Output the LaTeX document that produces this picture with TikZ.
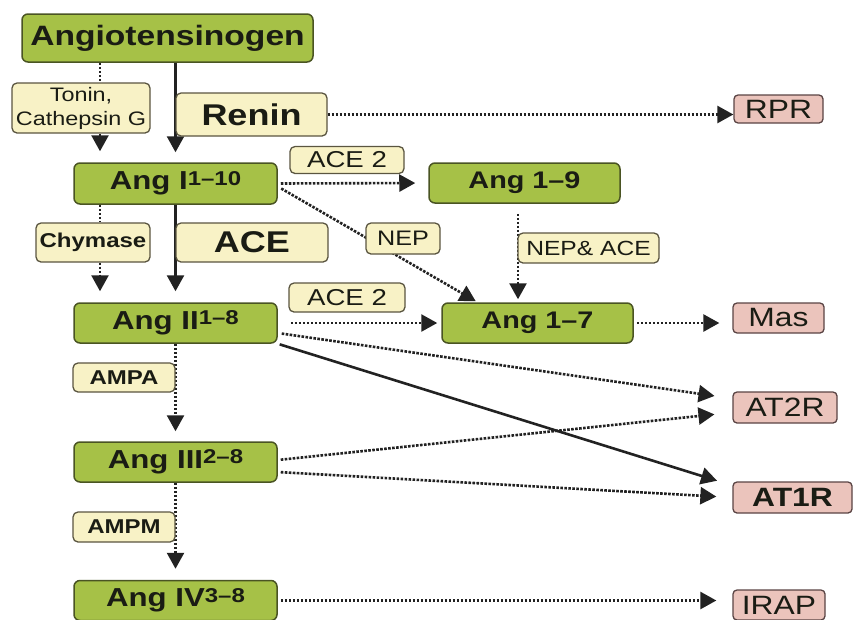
\documentclass[tikz,border=0pt]{standalone}
\usepackage{fontspec}
\setmainfont{Liberation Sans}[FakeStretch=1.2]
\usetikzlibrary{arrows.meta,backgrounds,calc}
\definecolor{gfill}{HTML}{A6C147}
\definecolor{gline}{HTML}{4A5423}
\definecolor{yfill}{HTML}{F8F2C6}
\definecolor{yline}{HTML}{5A5540}
\definecolor{pfill}{HTML}{EBC4BC}
\definecolor{pline}{HTML}{5A4444}
\definecolor{lcol}{HTML}{222222}
\definecolor{tcol}{HTML}{1A1C14}
\newcommand{\supsc}[1]{\raisebox{4.5pt}{\fontsize{20}{20}\selectfont #1}}
\begin{document}
\begin{tikzpicture}[x=1pt,y=-1pt,
  gbox/.style={draw=gline, fill=gfill, rounded corners=6pt, line width=1.5pt, inner sep=0pt, text=tcol},
  ybox/.style={draw=yline, fill=yfill, rounded corners=5pt, line width=1.3pt, inner sep=0pt, text=tcol},
  pbox/.style={draw=pline, fill=pfill, rounded corners=4pt, line width=1.3pt, inner sep=0pt, text=tcol},
  bigang/.style={font=\fontsize{26}{28}\selectfont\bfseries},
  midang/.style={font=\fontsize{24}{26}\selectfont\bfseries},
  labreg/.style={font=\fontsize{21}{24}\selectfont},
  labbold/.style={font=\fontsize{20}{22}\selectfont\bfseries},
  recfont/.style={font=\fontsize{26.5}{28}\selectfont},
  dotline/.style={draw=lcol, line width=2.6pt, dash pattern=on 2.6pt off 1.4pt},
  solidline/.style={draw=lcol, line width=2.6pt},
  arr/.style={-{Triangle[length=16pt,width=17pt]}},
]
\useasboundingbox (0,0) rectangle (854,619);
\coordinate (cx) at (100,0);
\coordinate (nx) at (518,0);
% main cascade
\node[gbox, font=\fontsize{28}{30}\selectfont\bfseries, minimum width=291pt, minimum height=48pt] (ago) at (167.5,38) {Angiotensinogen};
\node[ybox, font=\fontsize{19.5}{24}\selectfont, align=center, minimum width=138pt, minimum height=50pt] (tonin) at (81,108) {Tonin,\\Cathepsin G};
\node[ybox, font=\fontsize{30}{32}\selectfont\bfseries, minimum width=151pt, minimum height=43pt] (renin) at (251.5,114.5) {Renin};
\node[pbox, recfont, minimum width=89pt, minimum height=28pt] (rpr) at (778.5,109) {RPR};
\node[ybox, font=\fontsize{23}{25}\selectfont, minimum width=114pt, minimum height=27pt] (ace2a) at (347,160) {ACE 2};
\node[gbox, bigang, minimum width=203pt, minimum height=41pt] (ang1) at (175.5,183.5) {Ang I\supsc{1–10}};
\node[gbox, midang, minimum width=191pt, minimum height=40pt] (ang19) at (524.5,183) {Ang 1–9};
\node[ybox, labbold, minimum width=114pt, minimum height=39pt] (chym) at (93,242.5) {Chymase};
\node[ybox, font=\fontsize{30}{32}\selectfont\bfseries, minimum width=152pt, minimum height=39pt] (ace) at (252,242.5) {ACE};
\node[ybox, labreg, minimum width=74pt, minimum height=31pt] (nep) at (403,238.5) {NEP};
\node[ybox, font=\fontsize{20.5}{22}\selectfont, minimum width=141pt, minimum height=30pt] (nepace) at (588.5,248) {NEP\& ACE};
\node[ybox, font=\fontsize{23}{25}\selectfont, minimum width=116pt, minimum height=29pt] (ace2b) at (347,297.5) {ACE 2};
\node[gbox, bigang, minimum width=203pt, minimum height=40pt] (ang2) at (175.5,323) {Ang II\supsc{1–8}};
\node[gbox, midang, minimum width=191pt, minimum height=40pt] (ang17) at (537.5,323) {Ang 1–7};
\node[pbox, recfont, minimum width=91pt, minimum height=30pt] (mas) at (778.5,318) {Mas};
\node[ybox, labbold, minimum width=102pt, minimum height=29pt] (ampa) at (124,377.5) {AMPA};
\node[pbox, recfont, minimum width=104pt, minimum height=31pt] (at2r) at (785,407.5) {AT2R};
\node[gbox, bigang, minimum width=203pt, minimum height=40pt] (ang3) at (175.5,462) {Ang III\supsc{2–8}};
\node[pbox, font=\fontsize{26.5}{28}\selectfont\bfseries, minimum width=119pt, minimum height=31pt] (at1r) at (792.5,497.5) {AT1R};
\node[ybox, labbold, minimum width=102pt, minimum height=30pt] (ampm) at (124,527) {AMPM};
\node[gbox, bigang, minimum width=203pt, minimum height=40pt] (ang4) at (175.5,600.5) {Ang IV\supsc{3–8}};
\node[pbox, recfont, minimum width=92pt, minimum height=30pt] (irap) at (779,605) {IRAP};
\begin{pgfonlayer}{background}
\draw[solidline,arr,shorten >=10pt] (ang1.north |- ago.south) -- (ang1.north);
\draw[dotline] (cx |- ago.south) -- (cx |- tonin.north);
\draw[dotline,arr,shorten >=11pt] (cx |- tonin.south) -- (cx |- ang1.north);
\draw[dotline,arr] (renin.east) -- (renin.east -| rpr.west);
\draw[dotline,arr,shorten <=3pt,shorten >=13pt] (ang1.east) -- (ang19.west);
\draw[dotline,arr,shorten <=4pt,shorten >=2pt] ([yshift=-3pt]ang1.east) -- ([xshift=-60pt]ang17.north);
\draw[dotline,arr,shorten <=10pt,shorten >=3pt] (nx |- ang19.south) -- (nx |- ang17.north);
\draw[solidline,arr,shorten >=11pt] (ang2.north |- ang1.south) -- (ang2.north);
\draw[dotline] (cx |- ang1.south) -- (cx |- chym.north);
\draw[dotline,arr,shorten >=11pt] (cx |- chym.south) -- (cx |- ang2.north);
\draw[dotline,arr,shorten <=13pt,shorten >=4pt] (ang2.east) -- (ang17.west);
\draw[dotline,arr,shorten <=3pt,shorten >=13pt] (ang17.east) -- (ang17.east -| mas.west);
\draw[dotline,arr,shorten <=4pt,shorten >=18pt] ([yshift=-10pt]ang2.east) -- ([yshift=9pt]at2r.west);
\draw[solidline,arr,shorten <=2pt,shorten >=16pt] (ang2.south east) -- ([yshift=12pt]at1r.west);
\draw[dotline,arr,shorten >=10pt] (ang3.north |- ang2.south) -- (ang3.north);
\draw[dotline,arr,shorten <=3pt,shorten >=18pt] ([yshift=2pt]ang3.east) -- ([yshift=-5pt]at2r.west);
\draw[dotline,arr,shorten <=3pt,shorten >=16pt] ([yshift=-10pt]ang3.east) -- (at1r.west);
\draw[dotline,arr,shorten >=11pt] (ang4.north |- ang3.south) -- (ang4.north);
\draw[dotline,arr,shorten <=3pt,shorten >=16pt] (ang4.east) -- (ang4.east -| irap.west);
\end{pgfonlayer}
\end{tikzpicture}
\end{document}
